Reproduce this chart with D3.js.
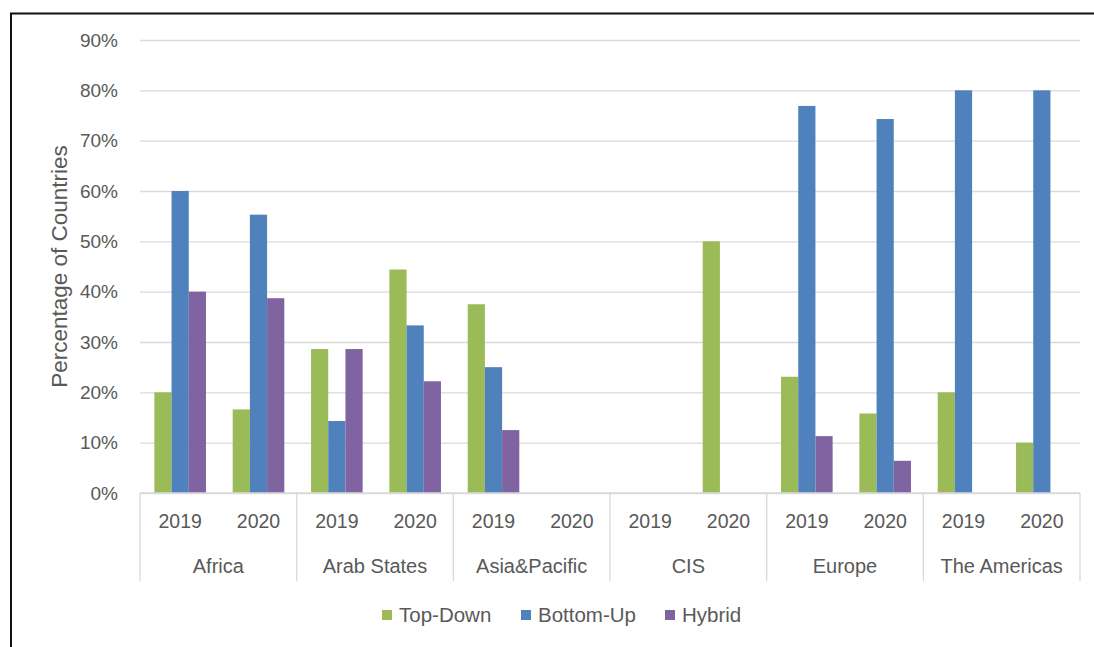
<!DOCTYPE html>
<html><head><meta charset="utf-8">
<script src="https://cdn.jsdelivr.net/npm/d3@7"></script>
<style>
html,body{margin:0;padding:0;background:#fff;}
svg{display:block;font-family:"Liberation Sans",Arial,sans-serif;}
</style></head>
<body>
<svg id="chart" width="1094" height="647"></svg>
<script>
const regions = ["Africa","Arab States","Asia&Pacific","CIS","Europe","The Americas"];
const years = ["2019","2020"];
const seriesNames = ["Top-Down","Bottom-Up","Hybrid"];
const seriesColors = ["#9BBB59","#4F81BD","#8064A2"];
// values in order: region x year
const topDown  = [0.20,0.166, 0.286,0.444, 0.375,0, 0,0.50, 0.231,0.158, 0.20,0.10];
const bottomUp = [0.60,0.553, 0.143,0.333, 0.25,0, 0,0, 0.769,0.743, 0.80,0.80];
const hybrid   = [0.40,0.387, 0.286,0.222, 0.125,0, 0,0, 0.113,0.064, 0,0];
const yTicks = [0,0.1,0.2,0.3,0.4,0.5,0.6,0.7,0.8,0.9];

(function(){
const svg = d3.select("#chart");
const textColor = "#595959", gridColor = "#D9D9D9";
const pLeft = 140, pRight = 1080, pTop = 40, pBottom = 493;

// frame
svg.append("rect").attr("x",11).attr("y",13.5).attr("width",1200).attr("height",800)
  .attr("fill","none").attr("stroke","#111").attr("stroke-width",2);

const slots = [];
regions.forEach(r => years.forEach(y => slots.push(r+"|"+y)));
const x = d3.scaleBand().domain(slots).range([pLeft,pRight]).padding(0);
const y = d3.scaleLinear().domain([0,0.9]).range([pBottom,pTop]);
const bw = 17.2;
const xs = d3.scaleBand().domain(seriesNames)
  .range([(x.bandwidth()-3*bw)/2 + 1, (x.bandwidth()+3*bw)/2 + 1]).padding(0);

// gridlines
const yAxis = d3.axisLeft(y).tickValues(yTicks).tickFormat(d3.format(".0%"))
  .tickSize(-(pRight-pLeft)).tickPadding(22);
const gy = svg.append("g").attr("transform",`translate(${pLeft},0)`).call(yAxis);
gy.select(".domain").remove();
gy.selectAll(".tick line").attr("stroke",gridColor).attr("stroke-width",1.3);
gy.selectAll(".tick text").attr("fill",textColor).attr("font-size",19)
  .attr("font-family","Liberation Sans, Arial, sans-serif");

// bars
const allSeries = [topDown,bottomUp,hybrid];
allSeries.forEach((vals,si) => {
  svg.append("g").selectAll("rect").data(vals.map((v,i)=>({v,slot:slots[i]})))
    .join("rect")
    .attr("x",d=>x(d.slot)+xs(seriesNames[si]))
    .attr("width",xs.bandwidth())
    .attr("y",d=>y(d.v))
    .attr("height",d=>y(0)-y(d.v))
    .attr("fill",seriesColors[si]);
});

// x axis: baseline + group separators
const axisBottom = 581;
svg.append("line").attr("x1",pLeft).attr("x2",pRight).attr("y1",pBottom).attr("y2",pBottom)
  .attr("stroke",gridColor).attr("stroke-width",1.3);
const bounds = regions.map(r => x(r+"|2019")).concat([pRight]);
svg.append("g").selectAll("line").data(bounds).join("line")
  .attr("x1",d=>d).attr("x2",d=>d).attr("y1",pBottom).attr("y2",axisBottom)
  .attr("stroke",gridColor).attr("stroke-width",1.3);

// year labels
svg.append("g").selectAll("text").data(slots).join("text")
  .attr("x",d=>x(d)+x.bandwidth()/2+1).attr("y",528)
  .attr("text-anchor","middle").attr("fill",textColor).attr("font-size",19.5)
  .text(d=>d.split("|")[1]);
// region labels
svg.append("g").selectAll("text").data(regions).join("text")
  .attr("x",d=>x(d+"|2019")+x.bandwidth()).attr("y",573)
  .attr("text-anchor","middle").attr("fill",textColor).attr("font-size",20)
  .text(d=>d);

// y title
svg.append("text").attr("transform",`translate(67,${(pTop+pBottom)/2}) rotate(-90)`)
  .attr("text-anchor","middle").attr("fill",textColor).attr("font-size",22.5)
  .text("Percentage of Countries");

// legend
const legendX = [382,521,665];
const lg = svg.append("g");
seriesNames.forEach((s,i)=>{
  lg.append("rect").attr("x",legendX[i]).attr("y",610).attr("width",10).attr("height",10)
    .attr("fill",seriesColors[i]);
  lg.append("text").attr("x",legendX[i]+17).attr("y",622).attr("fill",textColor)
    .attr("font-size",20.5).text(s);
});
})();
</script>
</body></html>
